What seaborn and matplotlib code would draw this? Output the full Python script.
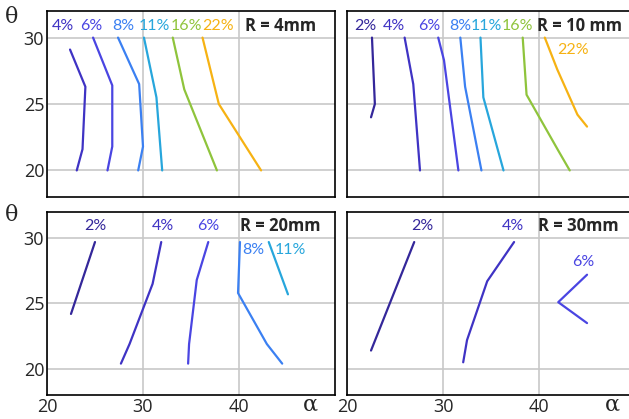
import pandas as pd
import matplotlib.pyplot as plt
import seaborn as sns

# contour lines (alpha, theta) per panel
r4_lines = {
    '4%': ([22.4, 24.0, 23.7, 23.1], [29.1, 26.3, 21.6, 20.0]),
    '6%': ([24.8, 26.8, 26.8, 26.3], [30.0, 26.4, 21.8, 20.0]),
    '8%': ([27.4, 29.6, 30.0, 29.5], [30.0, 26.5, 21.8, 20.0]),
    '11%': ([30.1, 31.4, 32.0], [30.0, 25.5, 20.0]),
    '16%': ([33.1, 34.3, 37.7], [30.0, 26.1, 20.0]),
    '22%': ([36.2, 37.9, 42.3], [30.0, 25.0, 20.0]),
}
r10_lines = {
    '2%': ([22.6, 22.9, 22.5], [30.0, 25.0, 24.0]),
    '4%': ([26.0, 26.9, 27.6], [30.0, 26.5, 20.0]),
    '6%': ([29.5, 30.1, 31.6], [30.0, 28.3, 20.0]),
    '8%': ([31.8, 32.3, 34.0], [30.0, 26.3, 20.0]),
    '11%': ([33.9, 34.2, 36.3], [30.0, 25.5, 20.0]),
    '16%': ([38.3, 38.7, 42.0, 43.2], [30.0, 25.7, 21.5, 20.0]),
    '22%': ([40.6, 41.9, 44.0, 45.0], [30.0, 27.6, 24.2, 23.3]),
}
r20_lines = {
    '2%': ([25.0, 22.5], [29.7, 24.2]),
    '4%': ([31.9, 31.0, 28.6, 27.7], [29.7, 26.5, 21.9, 20.4]),
    '6%': ([36.8, 35.6, 34.8, 34.7], [29.7, 26.8, 21.9, 20.4]),
    '8%': ([40.1, 39.9, 42.9, 44.5], [29.7, 25.8, 21.9, 20.4]),
    '11%': ([43.1, 45.1], [29.7, 25.7]),
}
r30_lines = {
    '2%': ([27.0, 22.5], [29.7, 21.4]),
    '4%': ([37.4, 34.6, 32.5, 32.1], [29.7, 26.7, 22.2, 20.5]),
    '6%': ([45.0, 42.0, 45.0], [27.2, 25.1, 23.5]),
}

# where each percentage label sits (alpha, theta)
r4_labels = {'4%': (21.7, 30.9), '6%': (24.6, 30.9), '8%': (27.9, 30.9),
             '11%': (31.2, 30.9), '16%': (34.5, 30.9), '22%': (37.8, 30.9)}
r10_labels = {'2%': (21.9, 30.9), '4%': (24.9, 30.9), '6%': (28.6, 30.9),
              '8%': (31.8, 30.9), '11%': (34.5, 30.9), '16%': (37.7, 30.9),
              '22%': (43.5, 29.1)}
r20_labels = {'2%': (25.0, 30.9), '4%': (32.1, 30.9), '6%': (36.8, 30.9),
              '8%': (41.5, 29.1), '11%': (45.3, 29.1)}
r30_labels = {'2%': (27.8, 30.9), '4%': (37.3, 30.9), '6%': (44.6, 28.2)}

titles = ['R = 4mm', 'R = 10 mm', 'R = 20mm', 'R = 30mm']
title_x = [40.6, 39.8, 40.1, 39.9]

colors = {'2%': '#34279a', '4%': '#3f33c4', '6%': '#4a45e2', '8%': '#3b80f2',
          '11%': '#27a6dc', '16%': '#8fc43c', '22%': '#f6b213'}

sns.set_style('white')
label_font = ['Lato', 'DejaVu Sans']
tick_font = ['Open Sans', 'DejaVu Sans']

fig = plt.figure(figsize=(6.29, 4.19), dpi=100)
boxes = [
    [0.0747, 0.5298, 0.4579, 0.4439],
    [0.5517, 0.5298, 0.4579, 0.4439],
    [0.0747, 0.0573, 0.4579, 0.4368],
    [0.5517, 0.0573, 0.4579, 0.4368],
]
panels = [(r4_lines, r4_labels), (r10_lines, r10_labels),
          (r20_lines, r20_labels), (r30_lines, r30_labels)]

for i, (box, (lines, labels)) in enumerate(zip(boxes, panels)):
    ax = fig.add_axes(box)
    rows = []
    for lvl, (xs, ys) in lines.items():
        for a, t in zip(xs, ys):
            rows.append({'alpha': a, 'theta': t, 'level': lvl})
    df = pd.DataFrame(rows)
    sns.lineplot(data=df, x='alpha', y='theta', hue='level', palette=colors,
                 sort=False, estimator=None, legend=False, linewidth=1.6, ax=ax)

    for lvl, (a, t) in labels.items():
        ax.text(a, t, lvl, color=colors[lvl], ha='center', va='center',
                fontsize=11.5, family=label_font)
    ax.text(title_x[i], 30.9, titles[i], ha='left', va='center',
            fontsize=12, fontweight='bold', family=tick_font)

    ax.set_xlim(20, 50)
    ax.set_ylim(18, 32)
    ax.set_xticks([20, 30, 40])
    ax.set_yticks([20, 25, 30])
    ax.grid(True, color='#c8c8c8', linewidth=1.2)
    ax.set_xlabel('')
    ax.set_ylabel('')
    ax.tick_params(length=0, labelsize=13, pad=2)
    for s in ax.spines.values():
        s.set_color('black')
        s.set_linewidth(1.2)
    if i % 2 == 1:
        ax.set_yticklabels([])
    if i < 2:
        ax.set_xticklabels([])
    for lab in ax.get_xticklabels() + ax.get_yticklabels():
        lab.set_family(tick_font)

# axis symbols
fig.text(12 / 629, 1 - 17 / 419, 'θ', fontsize=16, family='DejaVu Serif', ha='center', va='center')
fig.text(12 / 629, 1 - 215 / 419, 'θ', fontsize=16, family='DejaVu Serif', ha='center', va='center')
fig.text(310 / 629, 1 - 405 / 419, 'α', fontsize=16, family='DejaVu Serif', ha='center', va='center')
fig.text(612 / 629, 1 - 405 / 419, 'α', fontsize=16, family='DejaVu Serif', ha='center', va='center')

fig.savefig('out.png', dpi=100)
